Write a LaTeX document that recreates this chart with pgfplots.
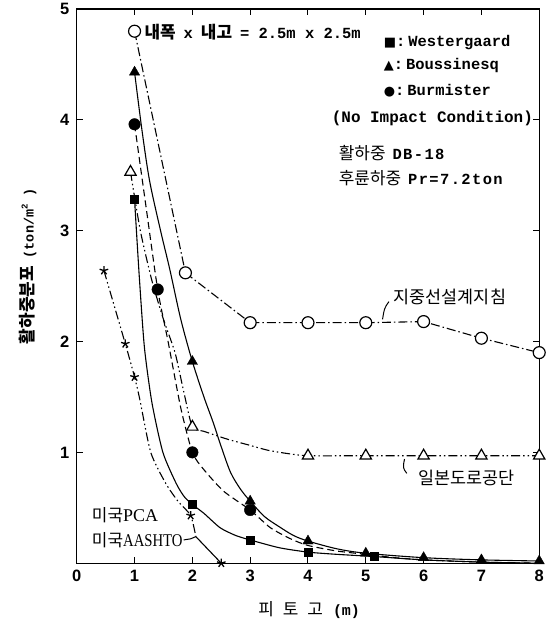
\documentclass[border=0pt]{standalone}
\usepackage{pgfplots}
\pgfplotsset{compat=1.18}
\usepackage{fontspec}
\setmainfont{Liberation Sans}
\newfontfamily\kr{Noto Sans CJK KR}
\newfontfamily\mono{Liberation Mono}
\newfontfamily\monow[LetterSpace=9]{Liberation Mono}
\newfontfamily\dejavu{DejaVu Sans}
\newfontfamily\serifr{Liberation Serif}
\newfontfamily\serifc[FakeStretch=0.82]{Liberation Serif}
\newcommand{\fs}[1]{\fontsize{#1bp}{#1bp}\selectfont}
\begin{document}
\begin{tikzpicture}
\begin{axis}[name=ax, scale only axis, width=464bp, height=556bp,
  xmin=0, xmax=8, ymin=0, ymax=5,
  xtick={0,1,...,8}, ytick={1,2,3,4,5},
  tick align=inside, major tick length=6bp,
  axis line style={line width=1.3bp},
  tick style={line width=1bp, black},
  clip=false,
  ticklabel style={font=\fs{16.5}\bfseries},
  /pgf/number format/assume math mode=true,
  xticklabel style={yshift=-3bp},
  yticklabel style={xshift=-4bp},
]
% 지중선설계지침 (open circles, dash-dot)
\addplot[line width=1.1bp, dash pattern=on 9bp off 3bp on 1.5bp off 3bp] coordinates {
(1,4.8) (1.88,2.62) (3,2.17) (4,2.17) (5,2.17) (6,2.18) (7,2.03) (8,1.9)};
% 일본도로공단 (open triangles, dash-dot-dot)
\addplot[line width=1.1bp, smooth, tension=0.4, dash pattern=on 9bp off 3bp on 1.5bp off 3bp on 1.5bp off 3bp] coordinates {
(0.93,3.53) (1.1,3.0) (1.3,2.55) (1.5,2.2) (1.7,1.9) (1.85,1.55) (2,1.23) (2.2,1.19) (2.6,1.12) (2.95,1.07) (3.3,1.02) (3.64,0.99) (4,0.97) (5,0.97) (6,0.97) (7,0.97) (8,0.97)};
% Boussinesq (solid)
\addplot[line width=1.1bp, smooth, tension=0.5] coordinates {
(1,4.43) (1.13,3.9) (1.26,3.45) (1.45,3.0) (1.61,2.65) (1.8,2.2) (2,1.82) (2.2,1.5) (2.36,1.27) (2.5,1.05) (2.66,0.82) (2.83,0.67) (3,0.56) (3.25,0.42) (3.5,0.33) (3.75,0.25) (4,0.2) (4.5,0.13) (5,0.09) (6,0.05) (7,0.03) (8,0.02)};
% Burmister (dashed)
\addplot[line width=1.1bp, smooth, tension=0.4, dash pattern=on 7bp off 4bp] coordinates {
(1,3.96) (1.2,3.21) (1.4,2.47) (1.58,2.0) (1.8,1.4) (2,1.0) (2.19,0.85) (2.54,0.65) (3,0.48) (3.35,0.32) (3.7,0.22) (4,0.16) (4.5,0.11) (5,0.08) (5.5,0.05) (6,0.03) (7,0.01) (8,0)};
% Westergaard / PCA (solid)
\addplot[line width=1.1bp, smooth, tension=0.4] coordinates {
(1,3.28) (1.08,2.6) (1.17,1.95) (1.3,1.45) (1.49,1.0) (1.72,0.72) (1.86,0.6) (2,0.53) (2.2,0.45) (2.48,0.32) (2.75,0.25) (3,0.21) (3.5,0.14) (4,0.1) (4.5,0.08) (5.15,0.06) (6,0.03) (7,0.01) (8,0)};
% AASHTO (dash-dot-dot, then solid)
\addplot[line width=1.1bp, smooth, tension=0.4, dash pattern=on 9bp off 3bp on 1.5bp off 3bp on 1.5bp off 3bp] coordinates {
(0.47,2.64) (0.84,1.98) (1,1.68) (1.09,1.48) (1.28,1.0) (1.54,0.72) (1.75,0.56) (1.97,0.43) (2.06,0.24)};
\addplot[line width=1.1bp] coordinates {(2.06,0.24) (2.5,0)};
% markers
\addplot[only marks, mark=*, mark size=6bp, mark options={draw=black, fill=white, line width=1.2bp}] coordinates {
(1,4.8) (1.88,2.62) (3,2.17) (4,2.17) (5,2.17) (6,2.18) (7,2.03) (8,1.9)};
\addplot[only marks, mark=triangle*, mark size=6.5bp, mark options={draw=black, fill=white, line width=1.2bp}] coordinates {
(0.93,3.53) (2,1.23) (4,0.97) (5,0.97) (6,0.97) (7,0.97) (8,0.97)};
\addplot[only marks, mark=triangle*, mark size=6bp, mark options={draw=black, fill=black}] coordinates {
(1,4.43) (2,1.82) (3,0.56) (4,0.2) (5,0.09) (6,0.05) (7,0.03) (8,0.02)};
\addplot[only marks, mark=*, mark size=5.8bp, mark options={draw=black, fill=black}] coordinates {
(1,3.96) (1.4,2.47) (2,1.0) (3,0.48)};
\addplot[only marks, mark=square*, mark size=4bp, mark options={draw=black, fill=black}] coordinates {
(1,3.28) (2,0.53) (3,0.21) (4,0.1) (5.15,0.06)};
\addplot[only marks, mark=star, mark size=4.5bp, mark options={draw=black, line width=1.3bp}] coordinates {
(0.47,2.64) (0.84,1.98) (1,1.68) (1.97,0.43) (2.5,0)};
% texts
\node[anchor=west, inner sep=0pt] at (axis cs:1.17,4.79) {{\kr\bfseries\fs{17}내폭}\hspace{8bp}{\mono\bfseries\fs{15.5}x}\hspace{8bp}{\kr\bfseries\fs{17}내고}\hspace{8bp}{\mono\bfseries\fs{15.5}= 2.5m x 2.5m}};
\node[anchor=west, inner sep=0pt] at (axis cs:5.31,4.70) {{\dejavu\fs{13}■}{\mono\bfseries\fs{15.5}:\hspace{3bp}Westergaard}};
\node[anchor=west, inner sep=0pt] at (axis cs:5.31,4.49) {{\dejavu\fs{13}▲}{\mono\bfseries\fs{15.5}:\hspace{3bp}Boussinesq}};
\node[anchor=west, inner sep=0pt] at (axis cs:5.31,4.26) {{\dejavu\fs{13}●}{\mono\bfseries\fs{15.5}:\hspace{3bp}Burmister}};
\node[anchor=west, inner sep=0pt] at (axis cs:4.41,4.01) {\mono\bfseries\fs{16}(No Impact Condition)};
\node[anchor=west, inner sep=0pt] at (axis cs:4.53,3.70) {{\kr\fs{17}활하중}\hspace{7bp}{\monow\bfseries\fs{15.5}DB-18}};
\node[anchor=west, inner sep=0pt] at (axis cs:4.53,3.47) {{\kr\fs{17}후륜하중}\hspace{7bp}{\monow\bfseries\fs{15.5}Pr=7.2ton}};
\node[anchor=west, inner sep=0pt] at (axis cs:5.48,2.40) {\kr\fs{17.5}지중선설계지침};
\draw[line width=1bp] (axis cs:5.40,2.36) .. controls (axis cs:5.32,2.3) .. (axis cs:5.29,2.20);
\node[anchor=west, inner sep=0pt] at (axis cs:5.91,0.77) {\kr\fs{17.5}일본도로공단};
\draw[line width=1bp] (axis cs:5.67,0.94) .. controls (axis cs:5.64,0.86) .. (axis cs:5.71,0.81);
\node[anchor=west, inner sep=0pt] at (axis cs:0.26,0.43) {{\kr\fs{17}미국}{\serifr\fs{18}PCA}};
\node[anchor=west, inner sep=0pt] at (axis cs:0.26,0.21) {{\kr\fs{17}미국}{\serifc\fs{18}AASHTO}};
\draw[line width=1bp] (axis cs:1.85,0.21) -- (axis cs:1.97,0.22) -- (axis cs:2.06,0.24);
\node[inner sep=0pt] at (axis cs:4.02,-0.423) {{\kr\fs{17}피}\hspace{9bp}{\kr\fs{17}토}\hspace{9bp}{\kr\fs{17}고}\hspace{10bp}{\mono\bfseries\fs{15}(m)}};
\node[inner sep=0pt, rotate=90] at (axis cs:-0.845,2.68) {{\kr\bfseries\fs{17}활하중분포}\hspace{8bp}{\mono\bfseries\fs{13.5}(ton/m\raisebox{0.45em}{\fs{9}2} )}};
\end{axis}
\path ([xshift=-77bp,yshift=-65bp]ax.south west) rectangle ([xshift=12bp,yshift=7bp]ax.north east);
\end{tikzpicture}
\end{document}
